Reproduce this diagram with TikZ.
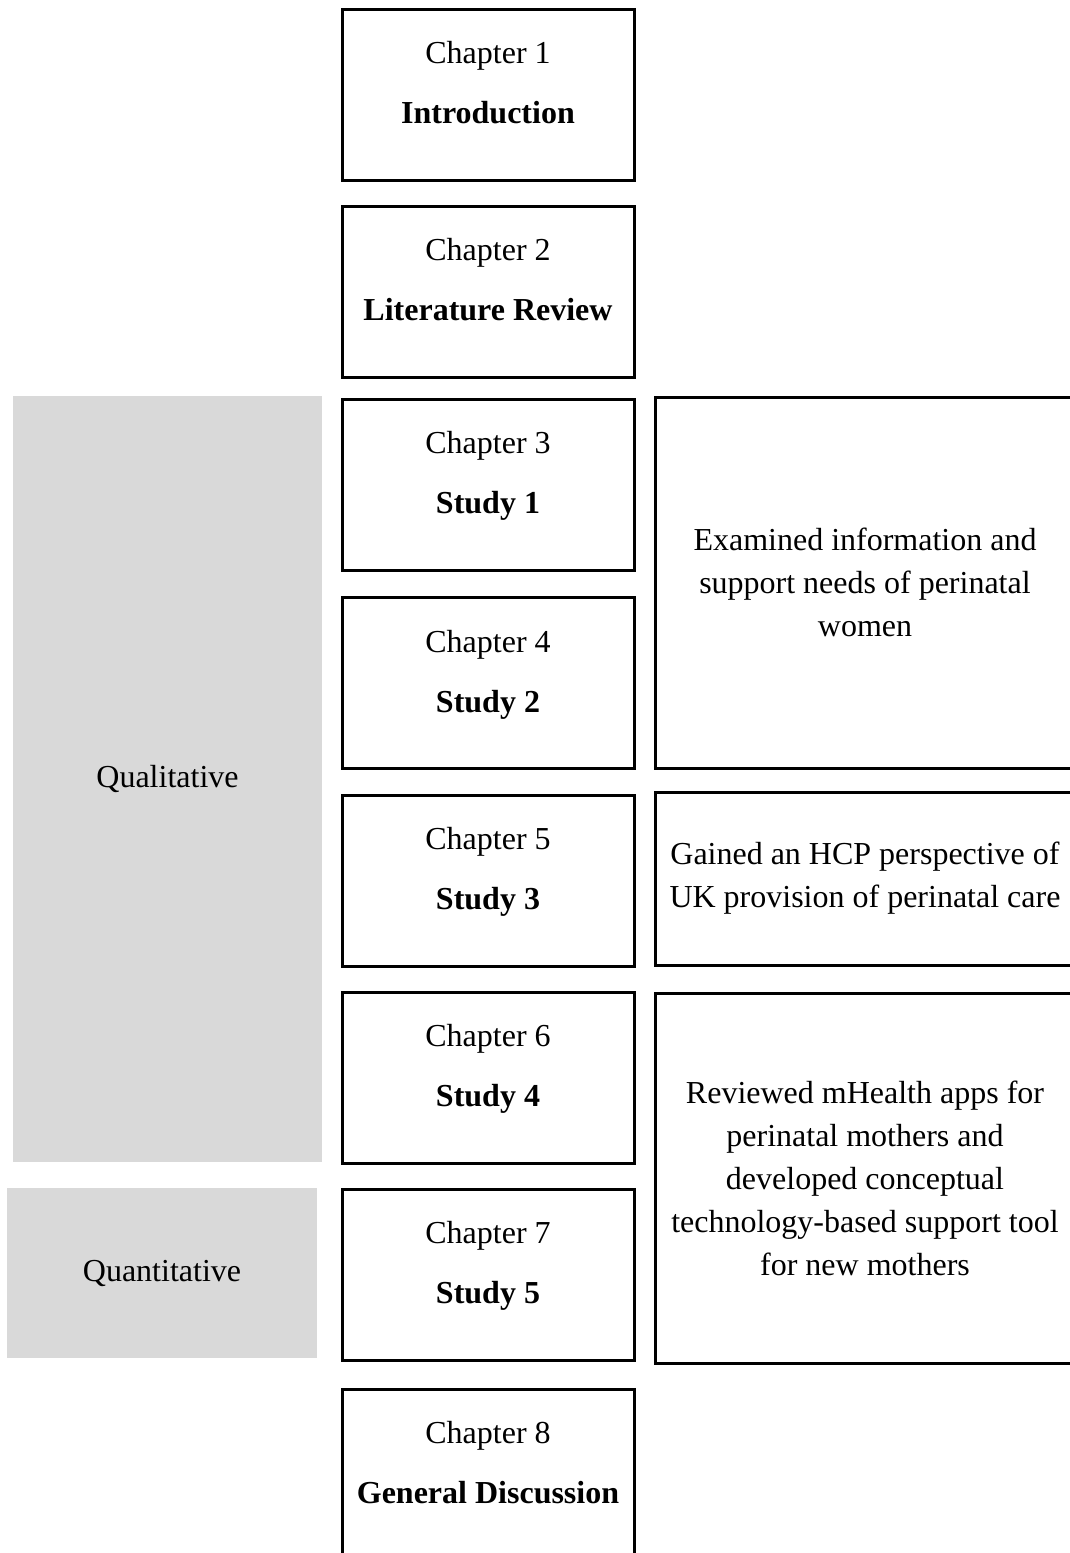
\documentclass[tikz,border=0pt]{standalone}
\usepackage{fontspec}
\setmainfont{Liberation Serif}
\usetikzlibrary{positioning}
\definecolor{shade}{HTML}{D9D9D9}

\begin{document}
\begin{tikzpicture}[
    x=0.5pt, y=-0.5pt,
    every node/.style={font=\fontsize{16}{21.5}\selectfont},
    chap/.style={rectangle, draw=black, line width=1.5pt, minimum width=146pt, minimum height=85.5pt, inner sep=0pt},
    summ/.style={rectangle, draw=black, line width=1.5pt, minimum width=210pt, inner sep=0pt, align=center},
    method/.style={rectangle, fill=shade, inner sep=0pt},
    chapnum/.style={anchor=base},
    chaptitle/.style={anchor=base, font=\fontsize{16}{21.5}\selectfont\bfseries}
]
\useasboundingbox (0,0) rectangle (1070,1553);
\clip (0,0) rectangle (1070,1553);

% Method bands (left)
\node[method, minimum width=154.5pt, minimum height=383pt] (qual) at (167.5,779) {Qualitative};
\node[method, minimum width=155pt, minimum height=85pt] (quant) at (162,1273) {Quantitative};

% Chapter boxes (middle)
\node[chap] (c1) at (488,94.5)   {};
\node[chapnum]   (n1) at (488,63)  {Chapter 1};
\node[chaptitle] (t1) at (488,123) {Introduction};

\node[chap] (c2) at (488,291.5)  {};
\node[chapnum]   (n2) at (488,260) {Chapter 2};
\node[chaptitle] (t2) at (488,320) {Literature Review};

\node[chap] (c3) at (488,484.5)  {};
\node[chapnum]   (n3) at (488,453) {Chapter 3};
\node[chaptitle] (t3) at (488,513) {Study 1};

\node[chap] (c4) at (488,683)    {};
\node[chapnum]   (n4) at (488,652) {Chapter 4};
\node[chaptitle] (t4) at (488,712) {Study 2};

\node[chap] (c5) at (488,880.5)  {};
\node[chapnum]   (n5) at (488,849) {Chapter 5};
\node[chaptitle] (t5) at (488,909) {Study 3};

\node[chap] (c6) at (488,1077.5) {};
\node[chapnum]   (n6) at (488,1046) {Chapter 6};
\node[chaptitle] (t6) at (488,1106) {Study 4};

\node[chap] (c7) at (488,1274.5) {};
\node[chapnum]   (n7) at (488,1243) {Chapter 7};
\node[chaptitle] (t7) at (488,1303) {Study 5};

\node[chap] (c8) at (488,1474.5) {};
\node[chapnum]   (n8) at (488,1443) {Chapter 8};
\node[chaptitle] (t8) at (488,1503) {General Discussion};

% Study summaries (right)
\node[summ, minimum height=185.5pt] (s1) at (865,582.5)
    {Examined information and\\support needs of perinatal\\women};
\node[summ, minimum height=86.5pt] (s2) at (865,878.5)
    {Gained an HCP perspective of\\UK provision of perinatal care};
\node[summ, minimum height=185pt] (s3) at (865,1178)
    {Reviewed mHealth apps for\\perinatal mothers and\\developed conceptual\\technology-based support tool\\for new mothers};
\end{tikzpicture}
\end{document}
